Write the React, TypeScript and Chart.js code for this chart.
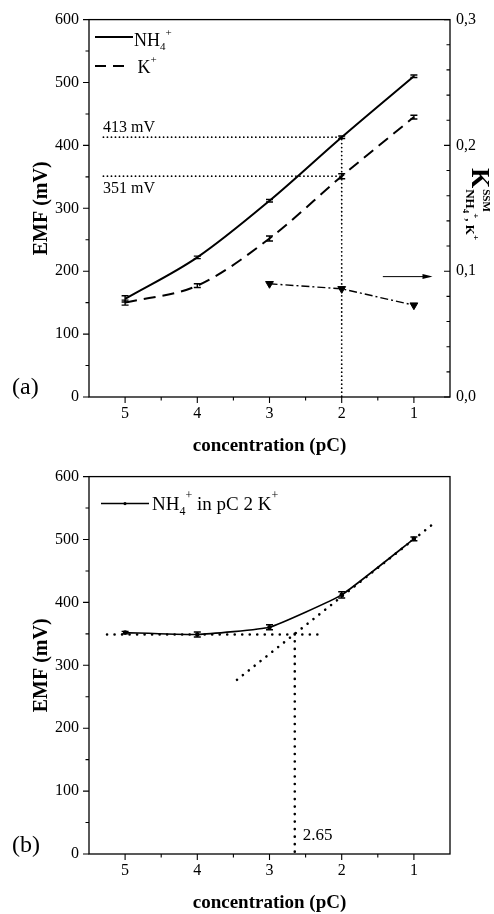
import React, { useEffect, useRef } from "react";
import { Chart, registerables } from "chart.js";
Chart.register(...registerables);

const FONT = '"Liberation Serif", "Times New Roman", serif';

// shared axes
const xTicks = [5, 4, 3, 2, 1];
const xMinorTicks = [4.5, 3.5, 2.5, 1.5];
const emfTicks = [0, 100, 200, 300, 400, 500, 600];
const emfMinorTicks = [50, 150, 250, 350, 450, 550];
const kTicks = [0, 0.1, 0.2, 0.3];
const kMinorTicks = [0.02, 0.04, 0.06, 0.08, 0.12, 0.14, 0.16, 0.18, 0.22, 0.24, 0.26, 0.28];

// chart (a)
const pC = [5, 4, 3, 2, 1];
const nh4EMF = [156, 222, 312, 413, 510];
const nh4Err = [5, 2, 2, 2, 2];
const kEMF = [150, 177, 252, 351, 445];
const kErr = [4, 3, 4, 4, 3];
const kssmPC = [3, 2, 1];
const kssmVal = [0.09, 0.086, 0.073];
const guide413X = [5.3, 2, 2];
const guide413Y = [413, 413, 0];
const guide351X = [5.3, 2];
const guide351Y = [351, 351];
const arrowX = [1.43, 0.77];
const arrowY = [0.0957, 0.0957];

// chart (b)
const mixEMF = [352, 349, 360.5, 412, 501];
const mixErr = [2, 4, 4, 5, 3];
const flatX = [5.25, 2.33];
const flatY = [349, 349];
const slopeX = [3.45, 0.72];
const slopeY = [277, 526];
const lodX = [2.65, 2.65];
const lodY = [350, 0];
const lodLabel = "2.65";

const W = 494;
const H = 457;

type Part = [string, number, number, boolean?];
function rich(ctx: CanvasRenderingContext2D, x: number, y: number, parts: Part[]) {
  let cx = x;
  for (const [t, size, dy, bold] of parts) {
    ctx.font = `${bold ? "bold " : ""}${size}px ${FONT}`;
    ctx.fillText(t, cx, y + dy);
    cx += ctx.measureText(t).width;
  }
  return cx;
}

function pts(xs: number[], ys: number[]) {
  return xs.map((x, i) => ({ x, y: ys[i] }));
}

function drawFrameAndTicks(chart: any, withRight: boolean) {
  const { ctx, chartArea: a, scales } = chart;
  const xs = scales.x, ys = scales.y;
  ctx.save();
  ctx.strokeStyle = "#000";
  ctx.lineWidth = 1.3;
  ctx.strokeRect(a.left, a.top, a.right - a.left, a.bottom - a.top);
  ctx.lineWidth = 1.1;
  ctx.beginPath();
  for (const v of xTicks) {
    const p = xs.getPixelForValue(v);
    ctx.moveTo(p, a.bottom); ctx.lineTo(p, a.bottom + 6);
  }
  for (const v of xMinorTicks) {
    const p = xs.getPixelForValue(v);
    ctx.moveTo(p, a.bottom); ctx.lineTo(p, a.bottom + 3.5);
  }
  for (const v of emfTicks) {
    const p = ys.getPixelForValue(v);
    ctx.moveTo(a.left, p); ctx.lineTo(a.left - 6, p);
  }
  for (const v of emfMinorTicks) {
    const p = ys.getPixelForValue(v);
    ctx.moveTo(a.left, p); ctx.lineTo(a.left - 3.5, p);
  }
  if (withRight) {
    const y2 = scales.y2;
    for (const v of kTicks) {
      const p = y2.getPixelForValue(v);
      ctx.moveTo(a.right, p); ctx.lineTo(a.right - 6, p);
    }
    for (const v of kMinorTicks) {
      const p = y2.getPixelForValue(v);
      ctx.moveTo(a.right, p); ctx.lineTo(a.right - 3.5, p);
    }
  }
  ctx.stroke();
  ctx.restore();
}

function drawErrors(chart: any, xsV: number[], vals: number[], errs: number[]) {
  const { ctx, scales } = chart;
  ctx.save();
  ctx.strokeStyle = "#000";
  ctx.lineWidth = 1.4;
  ctx.beginPath();
  xsV.forEach((xv, i) => {
    const x = scales.x.getPixelForValue(xv);
    const y1 = scales.y.getPixelForValue(vals[i] - errs[i]);
    const y2 = scales.y.getPixelForValue(vals[i] + errs[i]);
    ctx.moveTo(x, y1); ctx.lineTo(x, y2);
    ctx.moveTo(x - 3.5, y1); ctx.lineTo(x + 3.5, y1);
    ctx.moveTo(x - 3.5, y2); ctx.lineTo(x + 3.5, y2);
  });
  ctx.stroke();
  ctx.restore();
}

const pluginA = {
  id: "decorA",
  afterDatasetsDraw(chart: any) {
    const { ctx, chartArea: a, scales } = chart;
    drawFrameAndTicks(chart, true);
    drawErrors(chart, pC, nh4EMF, nh4Err);
    drawErrors(chart, pC, kEMF, kErr);
    ctx.save();
    ctx.fillStyle = "#000";
    ctx.strokeStyle = "#000";
    // arrow head
    const x0 = scales.x.getPixelForValue(arrowX[0]);
    const x1 = scales.x.getPixelForValue(arrowX[1]);
    const ya = scales.y2.getPixelForValue(arrowY[1]);
    const dir = Math.sign(x1 - x0);
    ctx.beginPath();
    ctx.moveTo(x1 + dir * 2, ya);
    ctx.lineTo(x1 - dir * 8, ya - 2.5);
    ctx.lineTo(x1 - dir * 8, ya + 2.5);
    ctx.closePath();
    ctx.fill();
    // legend
    ctx.textBaseline = "alphabetic";
    ctx.lineWidth = 2;
    ctx.beginPath();
    ctx.moveTo(a.left + 6, a.top + 17.5);
    ctx.lineTo(a.left + 44, a.top + 17.5);
    ctx.stroke();
    rich(ctx, a.left + 45, a.top + 26, [["NH", 18, 0], ["4", 11, 4], ["+", 11, -10]]);
    ctx.setLineDash([11, 7]);
    ctx.beginPath();
    ctx.moveTo(a.left + 6, a.top + 46.5);
    ctx.lineTo(a.left + 38, a.top + 46.5);
    ctx.stroke();
    ctx.setLineDash([]);
    rich(ctx, a.left + 48.5, a.top + 53.5, [["K", 18, 0], ["+", 11, -10]]);
    // guide labels
    ctx.font = `16px ${FONT}`;
    ctx.fillText("413 mV", a.left + 14, scales.y.getPixelForValue(413) - 5);
    ctx.fillText("351 mV", a.left + 14, scales.y.getPixelForValue(351) + 17);
    // panel label
    ctx.font = `24px ${FONT}`;
    ctx.textBaseline = "middle";
    ctx.fillText("(a)", 12, a.bottom - 9);
    // right axis title (rotated)
    ctx.translate(472, 168);
    ctx.rotate(Math.PI / 2);
    ctx.textBaseline = "alphabetic";
    const kEnd = rich(ctx, 0, 0, [["K", 26, 0, true]]);
    rich(ctx, kEnd + 1, 0, [["SSM", 11, -11, true]]);
    rich(ctx, kEnd + 1, 0, [["NH", 13, 6, true], ["4", 9, 9, true], ["+", 9, -1, true], [", K", 13, 6, true], ["+", 9, -1, true]]);
    ctx.restore();
  },
};

const pluginB = {
  id: "decorB",
  afterDatasetsDraw(chart: any) {
    const { ctx, chartArea: a, scales } = chart;
    drawFrameAndTicks(chart, false);
    drawErrors(chart, pC, mixEMF, mixErr);
    ctx.save();
    ctx.fillStyle = "#000";
    ctx.strokeStyle = "#000";
    ctx.textBaseline = "alphabetic";
    ctx.lineWidth = 1.5;
    ctx.beginPath();
    ctx.moveTo(a.left + 12, a.top + 27);
    ctx.lineTo(a.left + 60, a.top + 27);
    ctx.stroke();
    ctx.beginPath();
    ctx.arc(a.left + 36, a.top + 27, 1.6, 0, Math.PI * 2);
    ctx.fill();
    rich(ctx, a.left + 63, a.top + 33.5, [["NH", 19, 0], ["4", 12, 5], ["+", 12, -11], [" in pC 2 K", 19, 0], ["+", 12, -11]]);
    ctx.font = `17px ${FONT}`;
    ctx.fillText(lodLabel, scales.x.getPixelForValue(lodX[0]) + 8, a.bottom - 14);
    ctx.font = `24px ${FONT}`;
    ctx.textBaseline = "middle";
    ctx.fillText("(b)", 12, a.bottom - 8);
    ctx.restore();
  },
};

function baseScales(withRight: boolean) {
  const tickFont = { family: FONT, size: 16 };
  const titleFont = { family: FONT, size: 19, weight: "bold" as const };
  const s: any = {
    x: {
      type: "linear",
      min: 0.5,
      max: 5.5,
      reverse: true,
      afterBuildTicks: (sc: any) => { sc.ticks = xTicks.map((v) => ({ value: v })); },
      afterFit: (sc: any) => { sc.height = 60; },
      grid: { display: false, drawTicks: false },
      border: { display: false },
      ticks: { padding: 7, color: "#000", font: tickFont, autoSkip: false, maxRotation: 0 },
      title: { display: true, text: "concentration (pC)", color: "#000", font: titleFont, padding: { top: 0, bottom: 0 } },
    },
    y: {
      type: "linear",
      position: "left",
      min: 0,
      max: 600,
      afterBuildTicks: (sc: any) => { sc.ticks = emfTicks.map((v) => ({ value: v })); },
      afterFit: (sc: any) => { sc.width = 89; },
      grid: { display: false, drawTicks: false },
      border: { display: false },
      ticks: { padding: 10, color: "#000", font: tickFont },
      title: { display: true, text: "EMF (mV)", color: "#000", font: { ...titleFont, size: 20 }, padding: { top: 30, bottom: 0 } },
    },
  };
  if (withRight) {
    s.y2 = {
      type: "linear",
      position: "right",
      min: 0,
      max: 0.3,
      afterBuildTicks: (sc: any) => { sc.ticks = kTicks.map((v) => ({ value: v })); },
      afterFit: (sc: any) => { sc.width = 44; },
      grid: { display: false, drawTicks: false },
      border: { display: false },
      ticks: { padding: 6, color: "#000", font: tickFont, callback: (v: number) => v.toFixed(1).replace(".", ",") },
    };
  }
  return s;
}

const dotA = { borderColor: "#000", borderWidth: 1.8, borderDash: [0.01, 4], borderCapStyle: "round", pointRadius: 0, fill: false };
const dotB = { borderColor: "#000", borderWidth: 2.6, borderDash: [0.01, 7.5], borderCapStyle: "round", pointRadius: 0, fill: false };

function configA(): any {
  return {
    type: "line",
    data: {
      datasets: [
        { ...dotA, data: pts(guide413X, guide413Y), yAxisID: "y" },
        { ...dotA, data: pts(guide351X, guide351Y), yAxisID: "y" },
        { label: "NH4+", data: pts(pC, nh4EMF), yAxisID: "y", borderColor: "#000", borderWidth: 2, pointRadius: 0, cubicInterpolationMode: "monotone" },
        { label: "K+", data: pts(pC, kEMF), yAxisID: "y", borderColor: "#000", borderWidth: 2, borderDash: [12, 7], pointRadius: 0, cubicInterpolationMode: "monotone" },
        { label: "KSSM", data: pts(kssmPC, kssmVal), yAxisID: "y2", borderColor: "#000", borderWidth: 1.4, borderDash: [8, 3, 2, 3], pointStyle: "triangle", rotation: 180, pointRadius: 4.5, pointBackgroundColor: "#000", pointBorderColor: "#000", pointBorderWidth: 1 },
        { label: "arrow", data: pts(arrowX, arrowY), yAxisID: "y2", borderColor: "#000", borderWidth: 1, pointRadius: 0 },
      ],
    },
    options: {
      responsive: false,
      animation: false,
      devicePixelRatio: 1,
      layout: { padding: { top: 15, left: 0, right: 0, bottom: 0 } },
      plugins: { legend: { display: false }, tooltip: { enabled: false } },
      scales: baseScales(true),
    },
    plugins: [pluginA],
  };
}

function configB(): any {
  return {
    type: "line",
    data: {
      datasets: [
        { ...dotB, data: pts(flatX, flatY) },
        { ...dotB, data: pts(slopeX, slopeY) },
        { ...dotB, data: pts(lodX, lodY) },
        { label: "NH4+ in pC 2 K+", data: pts(pC, mixEMF), borderColor: "#000", borderWidth: 1.6, pointRadius: 1.5, pointBackgroundColor: "#000", pointBorderColor: "#000", tension: 0.12 },
      ],
    },
    options: {
      responsive: false,
      animation: false,
      devicePixelRatio: 1,
      layout: { padding: { top: 16, left: 0, right: 44, bottom: 0 } },
      plugins: { legend: { display: false }, tooltip: { enabled: false } },
      scales: baseScales(false),
    },
    plugins: [pluginB],
  };
}

function ChartCanvas({ make, top }: { make: () => any; top: number }) {
  const ref = useRef<HTMLCanvasElement | null>(null);
  useEffect(() => {
    if (!ref.current) return;
    const chart = new Chart(ref.current, make());
    return () => chart.destroy();
  }, [make]);
  return (
    <canvas
      ref={ref}
      width={W}
      height={H}
      style={{ position: "absolute", left: 0, top, width: W, height: H }}
    />
  );
}

export default function App() {
  return (
    <div style={{ position: "absolute", left: 0, top: 0, width: W, height: 914, background: "#fff" }}>
      <ChartCanvas make={configA} top={0} />
      <ChartCanvas make={configB} top={H} />
    </div>
  );
}
